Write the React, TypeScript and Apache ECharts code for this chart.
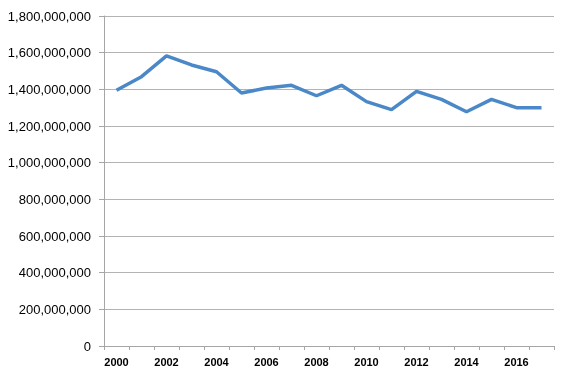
import React, { useEffect, useRef } from "react";
import * as echarts from "echarts";

const years = ["2000","2001","2002","2003","2004","2005","2006","2007","2008","2009","2010","2011","2012","2013","2014","2015","2016","2017"];
const values = [1395000000,1469000000,1582000000,1533000000,1496000000,1380000000,1407000000,1422000000,1365000000,1422000000,1333000000,1289000000,1389000000,1345000000,1278000000,1345000000,1300000000,1300000000];

export default function App() {
  const ref = useRef<HTMLDivElement>(null);
  useEffect(() => {
    const chart = echarts.init(ref.current!, null, { renderer: "svg" });
    chart.setOption({
      animation: false,
      grid: { left: 104, right: 7, top: 16, bottom: 32, containLabel: false },
      xAxis: {
        type: "category",
        data: years,
        boundaryGap: true,
        axisLine: { show: true, lineStyle: { color: "#a6a6a6", width: 1 } },
        axisTick: { show: true, interval: 0, length: 4, lineStyle: { color: "#a6a6a6" } },
        axisLabel: { interval: 1, color: "#000", fontSize: 11, fontFamily: "Liberation Sans", fontWeight: "bold", margin: 10 },
        splitLine: { show: false },
      },
      yAxis: {
        type: "value",
        min: 0,
        max: 1800000000,
        interval: 200000000,
        axisLine: { show: true, lineStyle: { color: "#a6a6a6", width: 1 } },
        axisTick: { show: true, length: 5, lineStyle: { color: "#a6a6a6" } },
        axisLabel: {
          color: "#000",
          fontSize: 13,
          fontFamily: "Liberation Sans",
          margin: 13,
          formatter: (v: number) => v.toLocaleString("en-US"),
        },
        splitLine: { show: true, lineStyle: { color: "#b3b3b3", width: 1 } },
      },
      series: [
        {
          type: "line",
          data: values,
          showSymbol: false,
          symbol: "none",
          lineStyle: { color: "#4a88c7", width: 3.5 },
        },
      ],
    });
    return () => chart.dispose();
  }, []);
  return <div ref={ref} style={{ position: "fixed", left: 0, top: 0, width: 561, height: 378 }} />;
}
